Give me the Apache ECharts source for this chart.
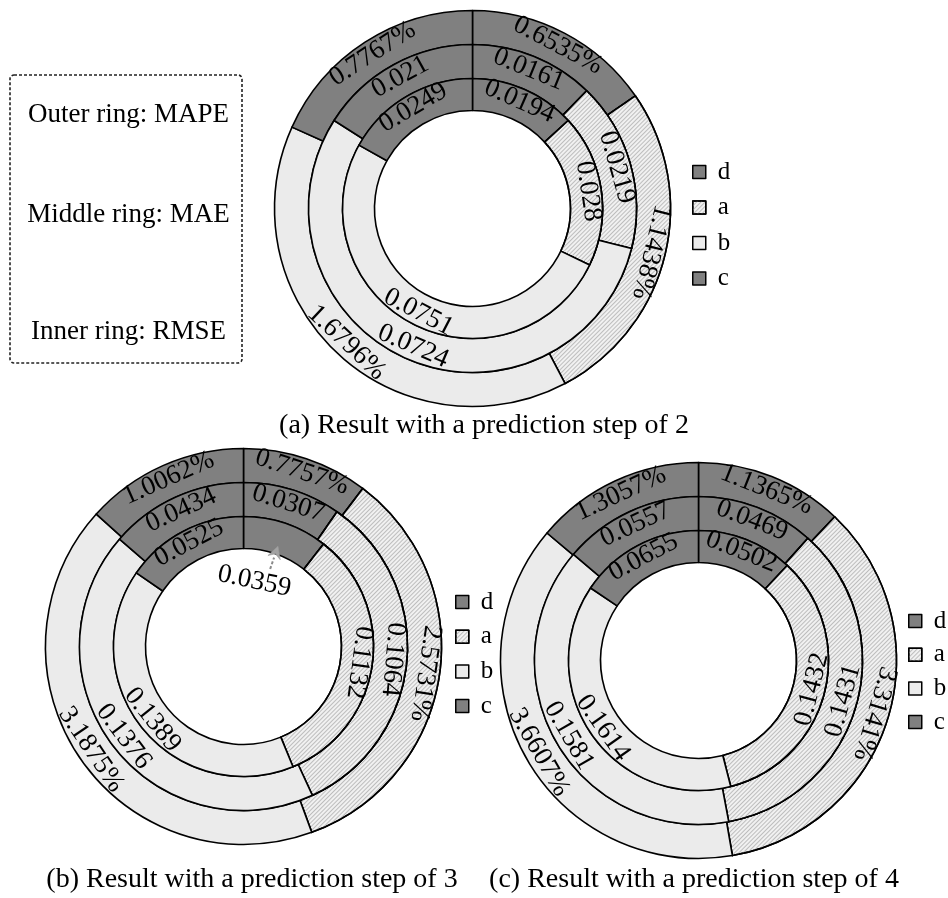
<!DOCTYPE html>
<html>
<head>
<meta charset="utf-8">
<script src="https://cdn.jsdelivr.net/npm/echarts@6/dist/echarts.min.js"></script>
<style>
  html, body { margin: 0; padding: 0; background: #fff; }
  #chart { width: 948px; height: 898px; }
</style>
</head>
<body>
<div id="chart"></div>
<script>
// Model categories, in the order they run clockwise from 12 o'clock
const categories = ['d', 'a', 'b', 'c'];

// Prediction step 2
const step2Mape = [0.6535, 1.1438, 1.6796, 0.7767];
const step2Mae  = [0.0161, 0.0219, 0.0724, 0.021];
const step2Rmse = [0.0194, 0.028, 0.0751, 0.0249];

// Prediction step 3
const step3Mape = [0.7757, 2.5731, 3.1875, 1.0062];
const step3Mae  = [0.0307, 0.1064, 0.1376, 0.0434];
const step3Rmse = [0.0359, 0.1132, 0.1389, 0.0525];

// Prediction step 4
const step4Mape = [1.1365, 3.3141, 3.6607, 1.3057];
const step4Mae  = [0.0469, 0.1431, 0.1581, 0.0557];
const step4Rmse = [0.0502, 0.1432, 0.1614, 0.0655];

const captions = [
  '(a) Result with a prediction step of 2',
  '(b) Result with a prediction step of 3',
  '(c) Result with a prediction step of 4'
];
const ringNotes = ['Outer ring: MAPE', 'Middle ring: MAE', 'Inner ring: RMSE'];

// ---------- styling ----------
const FONT = '"Liberation Serif", "Times New Roman", serif';
const DARK = '#808080';
const LIGHT = '#ebebeb';
const HATCH_BASE = '#f1f1f1';
const categoryStyle = {
  d: { color: DARK },
  a: { color: HATCH_BASE, decal: { symbol: 'rect', symbolSize: 1, dashArrayX: [1, 0], dashArrayY: [1, 2], rotation: -Math.PI / 4, color: '#bdbdbd' } },
  b: { color: LIGHT },
  c: { color: DARK }
};

// ring radii: outer (MAPE), middle (MAE), inner (RMSE)
const ringRadii = [[164, 198], [130, 164], [98, 130]];

const panels = [
  { center: [472.5, 208.5], rings: [step2Mape, step2Mae, step2Rmse], legend: { left: 692, top: 159, itemGap: 9.5 }, caption: [484, 426] },
  { center: [243.5, 646.5], rings: [step3Mape, step3Mae, step3Rmse], legend: { left: 455, top: 589, itemGap: 8.7 }, caption: [252, 880] },
  { center: [698.5, 660.5], rings: [step4Mape, step4Mae, step4Rmse], legend: { left: 908, top: 608, itemGap: 7.7 }, caption: [694, 880] }
];

// labels that are turned to face the centre although they sit on the right-hand side
const inwardLabels = { '2-1-1': true, '2-2-1': true };

function midAngles(values) {
  const total = values.reduce((s, v) => s + v, 0);
  let cum = 0;
  return values.map(v => {
    const mid = (cum + v / 2) / total * 360;
    cum += v;
    return mid;
  });
}

function labelRotation(theta, inward) {
  let rot;
  if (inward || (theta >= 180 && theta < 270)) rot = 180 - theta;
  else rot = -theta;
  while (rot <= -180) rot += 360;
  while (rot > 180) rot -= 360;
  return rot;
}

const series = [];
panels.forEach((panel, pi) => {
  panel.rings.forEach((values, ri) => {
    const mids = midAngles(values);
    const isOuter = ri === 0;
    const s = {
      type: 'pie',
      name: ['MAPE', 'MAE', 'RMSE'][ri],
      center: panel.center,
      radius: ringRadii[ri],
      startAngle: 90,
      clockwise: true,
      avoidLabelOverlap: false,
      silent: true,
      itemStyle: { borderColor: '#000', borderWidth: 1.6 },
      label: {
        show: true,
        position: 'inside',
        fontFamily: FONT,
        fontSize: 27,
        color: '#000',
        formatter: p => isOuter ? p.value + '%' : String(p.value)
      },
      labelLine: { show: false },
      emphasis: { disabled: true },
      data: values.map((v, i) => ({
        name: categories[i],
        value: v,
        itemStyle: categoryStyle[categories[i]],
        label: { rotate: labelRotation(mids[i], inwardLabels[pi + '-' + ri + '-' + i]) }
      }))
    };
    // step 3, inner ring: the thin "d" slice carries its value inside the hole
    if (pi === 1 && ri === 2) {
      const rad = mids[0] * Math.PI / 180;
      const rMid = (ringRadii[2][0] + ringRadii[2][1]) / 2;
      const rText = 61;
      const dx = rText * Math.sin(rad) - rMid * Math.sin(rad);
      const dy = -rText * Math.cos(rad) + rMid * Math.cos(rad);
      s.data[0].label.rotate = -12;
      s.labelLayout = function (params) {
        if (params.dataIndex === 0) return { dx: dx, dy: dy };
        return {};
      };
    }
    series.push(s);
  });
});

// pointer from the moved label up to its slice
const callout = (function () {
  const [cx, cy] = panels[1].center;
  const theta = midAngles(step3Rmse)[0] * Math.PI / 180;
  const tip = [cx + 106 * Math.sin(theta), cy - 106 * Math.cos(theta)];
  const tail = [cx + 82 * Math.sin(theta), cy - 82 * Math.cos(theta)];
  const ux = (tip[0] - tail[0]) / 24, uy = (tip[1] - tail[1]) / 24;
  const nx = -uy, ny = ux;
  const hl = 12, hw = 6.5;
  const base = [tip[0] - hl * ux, tip[1] - hl * uy];
  return [
    { type: 'line', z: 100, shape: { x1: tail[0], y1: tail[1], x2: base[0], y2: base[1] },
      style: { stroke: '#8a8a8a', lineWidth: 2, lineDash: [3, 2] } },
    { type: 'polygon', z: 100, shape: { points: [tip, [base[0] + hw * nx, base[1] + hw * ny], [tip[0] - 8 * ux, tip[1] - 8 * uy], [base[0] - hw * nx, base[1] - hw * ny]] },
      style: { fill: '#a3a3a3', stroke: '#9a9a9a', lineWidth: 0.6 } }
  ];
})();

const noteYs = [115, 215, 332];
const elements = [
  { type: 'rect', shape: { x: 10, y: 75, width: 232, height: 288, r: 4 },
    style: { fill: 'none', stroke: '#222', lineWidth: 1.6, lineDash: [3, 2] } }
].concat(ringNotes.map((t, i) => ({
  type: 'text', x: 128.5, y: noteYs[i],
  style: { text: t, font: '27px ' + FONT, fill: '#000', align: 'center', verticalAlign: 'middle' }
}))).concat(panels.map((p, i) => ({
  type: 'text', x: p.caption[0], y: p.caption[1],
  style: { text: captions[i], font: '28px ' + FONT, fill: '#000', align: 'center', verticalAlign: 'middle' }
}))).concat(callout);

const legends = panels.map(p => ({
  orient: 'vertical',
  left: p.legend.left,
  top: p.legend.top,
  itemGap: p.legend.itemGap,
  itemWidth: 13,
  itemHeight: 13,
  icon: 'rect',
  padding: 0,
  selectedMode: false,
  data: categories,
  itemStyle: { borderColor: '#000', borderWidth: 1.5 },
  textStyle: { fontFamily: FONT, fontSize: 25, color: '#000', lineHeight: 26, padding: [0, 0, 0, 7] }
}));

const chart = echarts.init(document.getElementById('chart'), null, { renderer: 'canvas' });
chart.setOption({
  animation: false,
  backgroundColor: '#fff',
  legend: legends,
  graphic: { elements: elements, z: 100 },
  series: series
});
</script>
</body>
</html>
